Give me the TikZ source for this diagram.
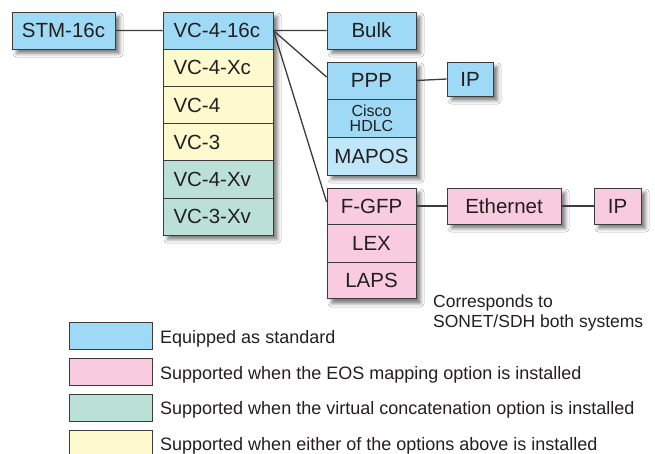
\documentclass[tikz,border=0pt]{standalone}
\usepackage{fontspec}
\setmainfont{Liberation Sans}
\usetikzlibrary{shadows.blur,fit}
\definecolor{cblue}{RGB}{158,217,245}
\definecolor{clblue}{RGB}{192,231,249}
\definecolor{cyel}{RGB}{255,249,206}
\definecolor{cteal}{RGB}{186,224,216}
\definecolor{cpink}{RGB}{249,203,224}
\definecolor{linec}{RGB}{60,60,60}
\definecolor{textc}{RGB}{35,31,32}
\tikzset{
  cell/.style={draw=linec, line width=0.9pt, inner sep=0pt, minimum height=37pt,
    text=textc, font=\fontsize{20.5}{20.5}\selectfont},
  vccell/.style={cell, minimum width=110pt, minimum height=37.2pt, text width=89pt, align=left},
  shad/.style={fill=white, inner sep=0pt,
    blur shadow={shadow xshift=4.5pt, shadow yshift=-4.5pt, shadow blur radius=3.5pt, shadow opacity=50}},
  conn/.style={draw=linec, line width=1.3pt},
  legbox/.style={draw=linec, line width=0.8pt, minimum width=83pt, minimum height=27pt, inner sep=0pt},
  legtext/.style={anchor=base west, text=textc, font=\fontsize{18}{18}\selectfont, inner sep=0pt},
  note/.style={anchor=base west, text=textc, font=\fontsize{17.5}{17.5}\selectfont, inner sep=0pt}
}
\begin{document}
\begin{tikzpicture}[x=1pt,y=-1pt]
\useasboundingbox[fill=white] (0,0) rectangle (655,453);
% shadows (group backgrounds)
\node[shad, fit={(12,12) (115,49)}] (stmsh) {};
\node[shad, fit={(163,12) (273,235.2)}] (vcsh) {};
\node[shad, fit={(327,12) (416,49)}] (bulksh) {};
\node[shad, fit={(327,62) (416,175)}] (pppsh) {};
\node[shad, fit={(447,62) (493,96)}] (ip1sh) {};
\node[shad, fit={(327,188) (416,299)}] (gfpsh) {};
\node[shad, fit={(447,188) (561,224)}] (ethsh) {};
\node[shad, fit={(594,188) (641,224)}] (ip2sh) {};
% cells
\node[cell, fill=cblue, minimum width=103pt] (stm) at (63.5,30.5) {STM-16c};
\node[vccell, fill=cblue] (vc416) at (218,30.6) {VC-4-16c};
\node[vccell, fill=cyel] (vc4xc) at (218,67.8) {VC-4-Xc};
\node[vccell, fill=cyel] (vc4) at (218,105) {VC-4};
\node[vccell, fill=cyel] (vc3) at (218,142.2) {VC-3};
\node[vccell, fill=cteal] (vc4xv) at (218,179.4) {VC-4-Xv};
\node[vccell, fill=cteal] (vc3xv) at (218,216.6) {VC-3-Xv};
\node[cell, fill=cblue, minimum width=89pt] (bulk) at (371.5,30.5) {Bulk};
\node[cell, fill=cblue, minimum width=89pt] (ppp) at (371.5,80.5) {PPP};
\node[cell, fill=cblue, minimum width=89pt, minimum height=38pt, align=center,
  font=\fontsize{16}{15}\selectfont] (hdlc) at (371.5,118) {Cisco\\HDLC};
\node[cell, fill=clblue, minimum width=89pt, minimum height=38pt] (mapos) at (371.5,156) {MAPOS};
\node[cell, fill=cblue, minimum width=46pt, minimum height=34pt] (ip1) at (470,79) {IP};
\node[cell, fill=cpink, minimum width=89pt, minimum height=36pt] (fgfp) at (371.5,206) {F-GFP};
\node[cell, fill=cpink, minimum width=89pt, minimum height=38pt] (lex) at (371.5,243) {LEX};
\node[cell, fill=cpink, minimum width=89pt, minimum height=36pt] (laps) at (371.5,280) {LAPS};
\node[cell, fill=cpink, minimum width=114pt, minimum height=36pt] (eth) at (504,206) {Ethernet};
\node[cell, fill=cpink, minimum width=47pt, minimum height=36pt] (ip2) at (617.5,206) {IP};
% connectors
\coordinate (pppin) at ([yshift=3.5pt]ppp.west);
\coordinate (gfpin) at ([yshift=4pt]fgfp.west);
\draw[conn] (stm.east) -- (vc416.west);
\draw[conn] (vc416.east) -- (bulk.west);
\draw[conn] (vc416.east) -- (pppin);
\draw[conn] (vc416.east) -- (gfpin);
\draw[conn] (ppp.east) -- (ip1.west);
\draw[conn] (fgfp.east) -- (eth.west);
\draw[conn] (eth.east) -- (ip2.west);
% note
\node[note] (note1) at (433,307) {Corresponds to};
\node[note] (note2) at (433,327) {SONET/SDH both systems};
% legend
\node[legbox, fill=cblue] (lb1) at (110.5,335.5) {};
\node[legbox, fill=cpink] (lb2) at (110.5,371.5) {};
\node[legbox, fill=cteal] (lb3) at (110.5,407.5) {};
\node[legbox, fill=cyel] (lb4) at (110.5,443.5) {};
\node[legtext] (lt1) at (160,343) {Equipped as standard};
\node[legtext] (lt2) at (160,379) {Supported when the EOS mapping option is installed};
\node[legtext] (lt3) at (160,414) {Supported when the virtual concatenation option is installed};
\node[legtext] (lt4) at (160,450) {Supported when either of the options above is installed};
\end{tikzpicture}
\end{document}
